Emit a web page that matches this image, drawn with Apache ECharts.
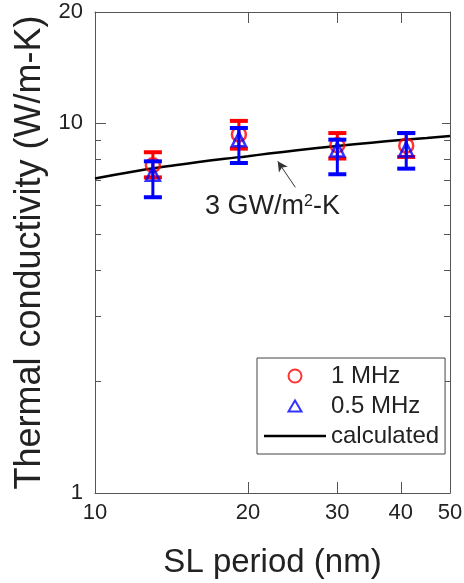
<!DOCTYPE html>
<html>
<head>
<meta charset="utf-8">
<script src="https://cdn.jsdelivr.net/npm/echarts@6/dist/echarts.min.js"></script>
<style>
html,body{margin:0;padding:0;background:#fff;}
#chart{width:464px;height:583px;}
</style>
</head>
<body>
<div id="chart"></div>
<script>
// ---- data ----
const period = [13.0, 19.2, 30.0, 41.0];               // SL period (nm)
const k1MHz = [7.7, 9.33, 8.72, 8.7];                  // 1 MHz centre values
const k1MHzLow = [7.14, 8.54, 8.03, 8.11];
const k1MHzHigh = [8.35, 10.15, 9.41, 9.41];
const k05MHz = [7.3, 9.05, 8.5, 8.5];                  // 0.5 MHz centre values
const k05MHzLow = [6.31, 7.81, 7.28, 7.54];
const k05MHzHigh = [7.89, 9.71, 9.03, 9.41];
const calcPeriod = [10, 12, 14, 16, 18, 20, 22, 25, 30, 35, 40, 45, 50];
const calcK = [7.09, 7.42, 7.66, 7.86, 8.02, 8.15, 8.28, 8.45, 8.68, 8.86, 9.01, 9.13, 9.24];
const xTickLabels = [10, 20, 30, 40, 50];
const xTicks = [20, 30, 40];
const yTickLabels = [1, 10, 20];
const yMajorTicks = [1, 10, 20];
const yMinorTicks = [2, 3, 4, 5, 6, 7, 8, 9];
const annotationPos = [22.36, 5.95];
const arrowFrom = [24.8, 6.71];
const arrowTo = [22.9, 7.89];

const FONT = 'Liberation Sans, Arial, Helvetica, sans-serif';
const AX = '#555';
const RED = '#ff0000';
const BLUE = '#0000ff';

function zip3(a, b, c) { return a.map((v, i) => [v, b[i], c[i]]); }
function zip2(a, b) { return a.map((v, i) => [v, b[i]]); }

function errRender(color) {
  return function (params, api) {
    const x = api.value(0), lo = api.value(1), hi = api.value(2);
    const pL = api.coord([x, lo]);
    const pH = api.coord([x, hi]);
    const hw = 9;
    return {
      type: 'group',
      children: [
        {type: 'line', shape: {x1: pL[0], y1: pL[1], x2: pH[0], y2: pH[1]}, style: {stroke: color, lineWidth: 3}},
        {type: 'line', shape: {x1: pL[0] - hw, y1: pL[1], x2: pL[0] + hw, y2: pL[1]}, style: {stroke: color, lineWidth: 4}},
        {type: 'line', shape: {x1: pH[0] - hw, y1: pH[1], x2: pH[0] + hw, y2: pH[1]}, style: {stroke: color, lineWidth: 4}}
      ]
    };
  };
}

function yAxisDef(pos, ticks, len, showLine, labels, extra) {
  return Object.assign({
    type: 'log', logBase: 10, min: 1, max: 20, position: pos, gridIndex: 0,
    axisLine: {show: showLine, onZero: false, lineStyle: {color: AX, width: 1}},
    axisTick: {show: true, inside: true, length: len, customValues: ticks, lineStyle: {color: AX, width: 1}},
    axisLabel: labels ? {show: true, customValues: labels, fontSize: 22, fontFamily: FONT, color: '#222', margin: 12, padding: [5, 0, 0, 0]} : {show: false},
    splitLine: {show: false}, minorTick: {show: false}
  }, extra || {});
}
function xAxisDef(pos, labels, extra) {
  return Object.assign({
    type: 'log', logBase: 10, min: 10, max: 50, position: pos, gridIndex: 0,
    axisLine: {show: true, onZero: false, lineStyle: {color: AX, width: 1}},
    axisTick: {show: true, inside: true, length: 11, customValues: xTicks, lineStyle: {color: AX, width: 1}},
    axisLabel: labels ? {show: true, customValues: labels, fontSize: 22, fontFamily: FONT, color: '#222', margin: 9} : {show: false},
    splitLine: {show: false}, minorTick: {show: false}
  }, extra || {});
}

const chart = echarts.init(document.getElementById('chart'), null, {renderer: 'canvas'});
chart.setOption({
  backgroundColor: '#fff',
  animation: false,
  grid: {left: 95, right: 14, top: 12, bottom: 90, containLabel: false, outerBoundsMode: 'none'},
  xAxis: [
    xAxisDef('bottom', xTickLabels, {
      name: 'SL period (nm)', nameLocation: 'middle', nameGap: 53,
      nameTextStyle: {fontSize: 33, fontFamily: FONT, color: '#222'}
    }),
    xAxisDef('top', null)
  ],
  yAxis: [
    yAxisDef('left', yMajorTicks, 11, true, yTickLabels, {
      name: 'Thermal conductivity (W/m-K)', nameLocation: 'middle', nameGap: 47,
      nameTextStyle: {fontSize: 36, fontFamily: FONT, color: '#222'}
    }),
    yAxisDef('left', yMinorTicks, 6, false, null),
    yAxisDef('right', yMajorTicks, 8, true, null),
    yAxisDef('right', yMinorTicks, 6, false, null)
  ],
  legend: {
    orient: 'vertical', left: 257, top: 358,
    data: [
      {name: '1 MHz', icon: 'circle'},
      {name: '0.5 MHz', icon: 'path://M0,0L0,0M62,13L62,13M24.5,12L31,1L37.5,12Z'},
      {name: 'calculated', icon: 'path://M0,0H62V2.5H0Z', itemStyle: {color: '#000', borderWidth: 0}}
    ],
    itemWidth: 62, itemHeight: 13, itemGap: 0,
    padding: [3, 6, 3, 6],
    borderColor: '#444', borderWidth: 1, backgroundColor: '#fff',
    textStyle: {fontSize: 24, fontFamily: FONT, color: '#222', lineHeight: 30},
    selectedMode: false
  },
  series: [
    {
      name: 'calculated', type: 'line', data: zip2(calcPeriod, calcK), smooth: true,
      showSymbol: false, symbol: 'none', lineStyle: {color: '#000', width: 2.5}, itemStyle: {color: '#000'},
      z: 2,
      markLine: {
        silent: true, symbol: ['none', 'arrow'], symbolSize: [8, 10],
        lineStyle: {color: '#333', width: 1, type: 'solid'}, label: {show: false},
        data: [[{coord: arrowFrom}, {coord: arrowTo}]]
      },
      markPoint: {
        silent: true, symbol: 'rect', symbolSize: 1, itemStyle: {color: 'transparent'},
        label: {
          show: true, position: 'inside', formatter: '3 GW/m{s|2}-K',
          fontSize: 27, fontFamily: FONT, color: '#222',
          rich: {s: {fontSize: 16, fontFamily: FONT, color: '#222', verticalAlign: 'top', padding: [0, 0, 10, 0]}}
        },
        data: [{coord: annotationPos}]
      }
    },
    {
      name: '1 MHz err', type: 'custom', renderItem: errRender(RED),
      data: zip3(period, k1MHzLow, k1MHzHigh), encode: {x: 0, y: [1, 2]}, z: 3, silent: true
    },
    {
      name: '1 MHz', type: 'scatter', data: zip2(period, k1MHz), symbol: 'circle', symbolSize: 14,
      itemStyle: {color: 'rgba(0,0,0,0)', borderColor: RED, borderWidth: 2.5}, z: 4
    },
    {
      name: '0.5 MHz err', type: 'custom', renderItem: errRender(BLUE),
      data: zip3(period, k05MHzLow, k05MHzHigh), encode: {x: 0, y: [1, 2]}, z: 5, silent: true
    },
    {
      name: '0.5 MHz', type: 'scatter', data: zip2(period, k05MHz), symbol: 'triangle', symbolSize: 14,
      itemStyle: {color: 'rgba(0,0,0,0)', borderColor: BLUE, borderWidth: 2.5}, z: 6
    }
  ]
});
</script>
</body>
</html>
